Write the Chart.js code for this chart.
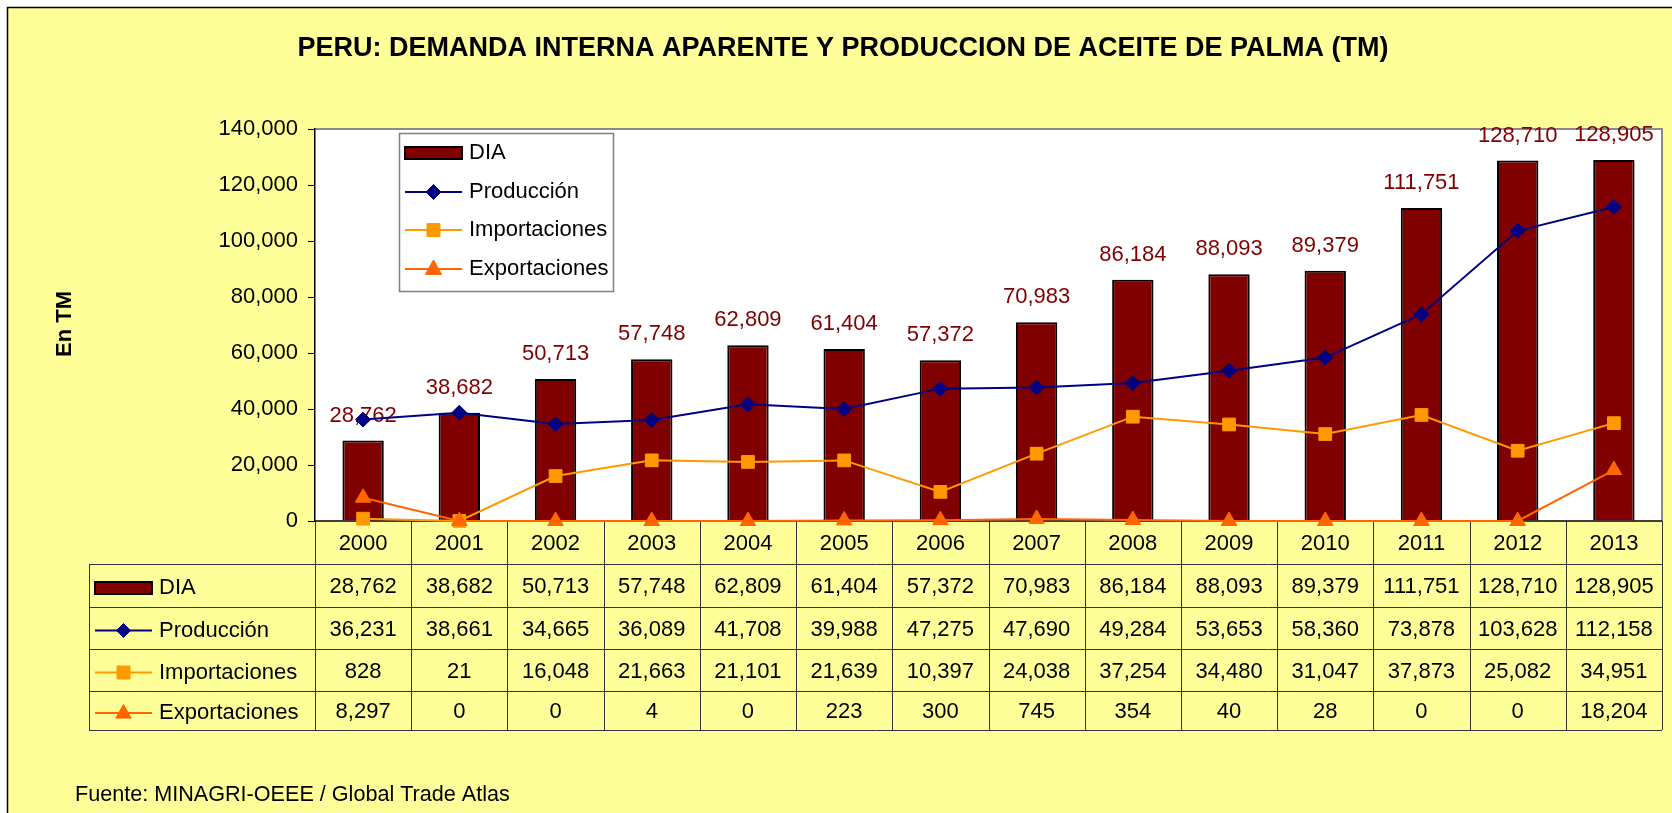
<!DOCTYPE html>
<html><head><meta charset="utf-8">
<script src="https://cdn.jsdelivr.net/npm/chart.js@4/dist/chart.umd.min.js"></script>
<style>html,body{margin:0;padding:0;background:#fff;overflow:hidden}canvas{display:block}</style>
</head><body>
<canvas id="c" width="1672" height="813"></canvas>
<script>
// ---- data ----
const years = ['2000','2001','2002','2003','2004','2005','2006','2007','2008','2009','2010','2011','2012','2013'];
const dia = [28762, 38682, 50713, 57748, 62809, 61404, 57372, 70983, 86184, 88093, 89379, 111751, 128710, 128905];
const produccion = [36231, 38661, 34665, 36089, 41708, 39988, 47275, 47690, 49284, 53653, 58360, 73878, 103628, 112158];
const importaciones = [828, 21, 16048, 21663, 21101, 21639, 10397, 24038, 37254, 34480, 31047, 37873, 25082, 34951];
const exportaciones = [8297, 0, 0, 4, 0, 223, 300, 745, 354, 40, 28, 0, 0, 18204];
const seriesNames = ['DIA', 'Producción', 'Importaciones', 'Exportaciones'];
const yTickValues = [0, 20000, 40000, 60000, 80000, 100000, 120000, 140000];
const titleText = 'PERU: DEMANDA INTERNA APARENTE Y PRODUCCION DE ACEITE DE PALMA (TM)';
const yTitleText = 'En TM';
const sourceText = 'Fuente: MINAGRI-OEEE / Global Trade Atlas';

// ---- styles ----
const FONT = "'Liberation Sans', Arial, Helvetica, sans-serif";
const W = 1672, H = 813;
const BG = '#FFFF99';
const C_DIA = '#800000', C_PROD = '#000080', C_IMP = '#FF9900', C_EXP = '#FF6600';
const styles = [
  {kind:'bar', color:C_DIA},
  {kind:'line', color:C_PROD, marker:'diamond'},
  {kind:'line', color:C_IMP, marker:'square'},
  {kind:'line', color:C_EXP, marker:'triangle'}
];
const tableRows = [dia, produccion, importaciones, exportaciones];
const rowEdges = [521, 564, 607, 649, 691, 730];
const tableLeft = 89;

Chart.defaults.font.family = FONT;
Chart.defaults.animation = false;

const fmt = v => v.toLocaleString('en-US');

function drawMarker(ctx, type, x, y, color, s) {
  ctx.save();
  ctx.fillStyle = color; ctx.strokeStyle = color; ctx.lineWidth = 1;
  ctx.beginPath();
  if (type === 'diamond') {
    ctx.moveTo(x, y - s); ctx.lineTo(x + s, y); ctx.lineTo(x, y + s); ctx.lineTo(x - s, y); ctx.closePath();
  } else if (type === 'square') {
    ctx.rect(x - s, y - s, 2 * s, 2 * s);
  } else {
    ctx.moveTo(x, y - s); ctx.lineTo(x + s * 0.9, y + s * 0.6); ctx.lineTo(x - s * 0.9, y + s * 0.6); ctx.closePath();
  }
  ctx.fill(); ctx.stroke();
  ctx.restore();
}

function drawSymbol(ctx, st, x1, x2, cy, big) {
  ctx.save();
  if (st.kind === 'bar') {
    ctx.fillStyle = st.color; ctx.strokeStyle = '#000'; ctx.lineWidth = 2;
    ctx.fillRect(x1, cy - 6, x2 - x1, 12);
    ctx.strokeRect(x1, cy - 6, x2 - x1, 12);
  } else {
    ctx.strokeStyle = st.color; ctx.lineWidth = 2;
    ctx.beginPath(); ctx.moveTo(x1, cy); ctx.lineTo(x2, cy); ctx.stroke();
    const s = st.marker === 'diamond' ? (big ? 7.5 : 7) : st.marker === 'square' ? 6.5 : (big ? 9 : 8.5);
    drawMarker(ctx, st.marker, (x1 + x2) / 2, cy, st.color, s);
  }
  ctx.restore();
}

const deco = {
  id: 'deco',
  beforeDraw(chart) {
    const {ctx, chartArea: a} = chart;
    ctx.save();
    ctx.fillStyle = '#fff'; ctx.fillRect(0, 0, W, H);
    ctx.fillStyle = BG; ctx.fillRect(7, 7, W - 7, H - 7);
    ctx.strokeStyle = '#000'; ctx.lineWidth = 1.5;
    ctx.beginPath(); ctx.moveTo(7.5, H); ctx.lineTo(7.5, 7.5); ctx.lineTo(W, 7.5); ctx.stroke();
    ctx.fillStyle = '#fff'; ctx.fillRect(a.left, a.top, a.width, a.height);
    ctx.strokeStyle = '#8a8a8a'; ctx.lineWidth = 2;
    ctx.beginPath(); ctx.moveTo(a.left, a.top); ctx.lineTo(a.right, a.top); ctx.lineTo(a.right, a.bottom); ctx.stroke();
    // title
    ctx.fillStyle = '#000'; ctx.textAlign = 'center'; ctx.textBaseline = 'middle';
    ctx.font = 'bold 27px ' + FONT;
    ctx.fillText(titleText, 843, 49);
    // y title
    ctx.save();
    ctx.translate(65, 324); ctx.rotate(-Math.PI / 2);
    ctx.font = 'bold 22px ' + FONT;
    ctx.fillText(yTitleText, 0, 0);
    ctx.restore();
    // footer
    ctx.textAlign = 'left';
    ctx.font = '21.6px ' + FONT;
    ctx.fillText(sourceText, 75, 795);
    ctx.restore();
  },
  beforeDatasetsDraw(chart) {
    const {ctx, chartArea: a, scales: {x}} = chart;
    const n = years.length;
    const slot = (a.right - a.left) / n;
    ctx.save();
    ctx.strokeStyle = '#333'; ctx.lineWidth = 1;
    for (let r = 1; r < rowEdges.length; r++) {
      const y = Math.round(rowEdges[r]) + 0.5;
      ctx.beginPath(); ctx.moveTo(tableLeft, y); ctx.lineTo(a.right, y); ctx.stroke();
    }
    ctx.beginPath(); ctx.moveTo(tableLeft + 0.5, rowEdges[1]); ctx.lineTo(tableLeft + 0.5, rowEdges[5]); ctx.stroke();
    for (let i = 0; i <= n; i++) {
      const xx = Math.round(a.left + i * slot) + 0.5;
      ctx.beginPath(); ctx.moveTo(xx, rowEdges[0]); ctx.lineTo(xx, rowEdges[5]); ctx.stroke();
    }
    ctx.strokeStyle = '#000'; ctx.lineWidth = 1.5;
    ctx.beginPath(); ctx.moveTo(a.left, a.bottom); ctx.lineTo(a.right, a.bottom); ctx.stroke();
    ctx.fillStyle = '#000'; ctx.font = '22px ' + FONT; ctx.textBaseline = 'middle'; ctx.textAlign = 'center';
    for (let i = 0; i < n; i++) {
      const cx = x.getPixelForValue(i);
      ctx.fillText(years[i], cx, (rowEdges[0] + rowEdges[1]) / 2 + 1);
      for (let r = 0; r < tableRows.length; r++) {
        ctx.fillText(fmt(tableRows[r][i]), cx, (rowEdges[r + 1] + rowEdges[r + 2]) / 2 + 1.5);
      }
    }
    ctx.textAlign = 'left';
    for (let r = 0; r < seriesNames.length; r++) {
      const cy = (rowEdges[r + 1] + rowEdges[r + 2]) / 2 + 2.5;
      drawSymbol(ctx, styles[r], 95, 152, cy, false);
      ctx.fillStyle = '#000';
      ctx.fillText(seriesNames[r], 159, cy);
    }
    ctx.restore();
  },
  afterDatasetDraw(chart, args) {
    if (args.index !== 0) return;
    const {ctx} = chart;
    const meta = chart.getDatasetMeta(0);
    ctx.save();
    ctx.fillStyle = C_DIA; ctx.font = '22px ' + FONT;
    ctx.textAlign = 'center'; ctx.textBaseline = 'middle';
    meta.data.forEach((el, i) => { ctx.fillText(fmt(dia[i]), el.x, el.y - 25); });
    ctx.restore();
  },
  afterDraw(chart) {
    const {ctx} = chart;
    ctx.save();
    ctx.fillStyle = '#fff'; ctx.fillRect(399, 133, 214, 158);
    ctx.strokeStyle = '#808080'; ctx.lineWidth = 1.5;
    ctx.strokeRect(399.5, 133.5, 214, 158);
    const ys = [153, 192, 230, 269];
    ctx.font = '22px ' + FONT; ctx.textBaseline = 'middle'; ctx.textAlign = 'left';
    for (let r = 0; r < seriesNames.length; r++) {
      drawSymbol(ctx, styles[r], 405, 462, ys[r], true);
      ctx.fillStyle = '#000';
      ctx.fillText(seriesNames[r], 469, ys[r]);
    }
    ctx.restore();
  }
};

new Chart(document.getElementById('c'), {
  type: 'bar',
  data: {
    labels: years,
    datasets: [
      {type:'bar', label: seriesNames[0], data: dia, backgroundColor: C_DIA, borderColor: '#000', borderWidth: 2,
       borderSkipped: 'bottom', categoryPercentage: 1, barPercentage: 0.43, order: 4},
      {type:'line', label: seriesNames[1], data: produccion, borderColor: C_PROD, backgroundColor: C_PROD, borderWidth: 2,
       pointStyle: 'rectRot', pointRadius: 7.5, pointBorderWidth: 1, tension: 0, clip: false, order: 3},
      {type:'line', label: seriesNames[2], data: importaciones, borderColor: C_IMP, backgroundColor: C_IMP, borderWidth: 2,
       pointStyle: 'rect', pointRadius: 9, pointBorderWidth: 1, tension: 0, clip: false, order: 2},
      {type:'line', label: seriesNames[3], data: exportaciones, borderColor: C_EXP, backgroundColor: C_EXP, borderWidth: 2,
       pointStyle: 'triangle', pointRadius: 9, pointBorderWidth: 1, tension: 0, clip: false, order: 1}
    ]
  },
  options: {
    responsive: false,
    animation: false,
    layout: {padding: {left: 0, right: 5, top: 129, bottom: 292}},
    plugins: {legend: {display: false}, tooltip: {enabled: false}, title: {display: false}},
    scales: {
      x: {display: false, offset: true},
      y: {
        min: 0, max: 140000,
        afterBuildTicks: s => { s.ticks = yTickValues.map(v => ({value: v})); },
        afterFit: s => { s.width = 315; },
        ticks: {callback: v => fmt(v), color: '#000', font: {size: 22}, padding: 10},
        grid: {drawOnChartArea: false, color: '#000', tickLength: 7, lineWidth: 1},
        border: {color: '#000', width: 1.5}
      }
    }
  },
  plugins: [deco]
});
</script>
</body></html>
